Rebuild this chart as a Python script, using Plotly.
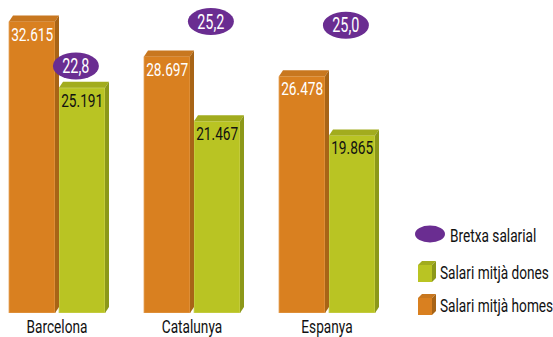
import plotly.graph_objects as go

# Salaris mitjans (euros) i bretxa salarial (%)
regions = ["Barcelona", "Catalunya", "Espanya"]
salari_homes = [32615, 28697, 26478]
salari_dones = [25191, 21467, 19865]
bretxa = [22.8, 25.2, 25.0]
legend_labels = ["Bretxa salarial", "Salari mitjà dones", "Salari mitjà homes"]

FONT = "Roboto, Liberation Sans, sans-serif"
FS = 19               # base font size
TEXT_SQUEEZE = 0.72   # horizontal condensing applied to every text

ORANGE = "#D98020"
ORANGE_TOP = "#C8771F"
ORANGE_SIDE = "#A86416"
GREEN = "#B9C423"
GREEN_TOP = "#A2AC1E"
GREEN_SIDE = "#8C9819"
PURPLE = "#6A2D91"

W, H = 553, 337
M_B = 24
PX_PER_X = 135.0          # pixels per category step
X0_PX = 57.0              # pixel position of first category
Y_MAX = 35020.0           # top of primary axis
PLOT_H = H - M_B
px_per_y = PLOT_H / Y_MAX

bar_w = 46 / PX_PER_X
bar_off = 25 / PX_PER_X
depth_x = 4 / PX_PER_X
depth_y = 6 / px_per_y

xs = list(range(len(regions)))
x_h = [i - bar_off for i in xs]
x_d = [i + bar_off for i in xs]


def fmt_thousands(v):
    return f"{v:,}".replace(",", ".")


def fmt_pct(v):
    return f"{v:.1f}".replace(".", ",")


fig = go.Figure()

fig.add_trace(go.Bar(
    x=x_h, y=salari_homes, width=bar_w,
    marker=dict(color=ORANGE, line=dict(color="#E6A35C", width=0.8)),
    showlegend=False, hoverinfo="skip",
))
fig.add_trace(go.Bar(
    x=x_d, y=salari_dones, width=bar_w,
    marker=dict(color=GREEN, line=dict(color="#D0D766", width=0.8)),
    showlegend=False, hoverinfo="skip",
))


def add_faces(xc, val, top_col, side_col):
    x0 = xc - bar_w / 2
    x1 = xc + bar_w / 2
    # top face
    fig.add_trace(go.Scatter(
        x=[x0, x1, x1 + depth_x, x0 + depth_x, x0],
        y=[val, val, val + depth_y, val + depth_y, val],
        mode="lines", fill="toself", fillcolor=top_col,
        line=dict(width=0, color=top_col), showlegend=False, hoverinfo="skip",
    ))
    # right side face
    fig.add_trace(go.Scatter(
        x=[x1, x1 + depth_x, x1 + depth_x, x1, x1],
        y=[0, depth_y, val + depth_y, val, 0],
        mode="lines", fill="toself", fillcolor=side_col,
        line=dict(width=0, color=side_col), showlegend=False, hoverinfo="skip",
    ))


for xc, v in zip(x_h, salari_homes):
    add_faces(xc, v, ORANGE_TOP, ORANGE_SIDE)
for xc, v in zip(x_d, salari_dones):
    add_faces(xc, v, GREEN_TOP, GREEN_SIDE)

shapes = []
annotations = []

# value labels just inside the top of each bar
for xc, v in zip(x_h, salari_homes):
    annotations.append(dict(
        x=xc, y=v, xref="x", yref="y", text=fmt_thousands(v),
        xanchor="center", yanchor="top", showarrow=False, borderpad=0,
        font=dict(family=FONT, size=FS, color="white"),
    ))
for xc, v in zip(x_d, salari_dones):
    annotations.append(dict(
        x=xc, y=v, xref="x", yref="y", text=fmt_thousands(v),
        xanchor="center", yanchor="top", showarrow=False, borderpad=0,
        font=dict(family=FONT, size=FS, color="#111111"),
    ))

# Bretxa salarial: ellipses on the secondary axis
gap_dx = 0.14
for i, g in zip(xs, bretxa):
    shapes.append(dict(
        type="circle", xref="x", yref="y2",
        xsizemode="pixel", ysizemode="pixel",
        xanchor=i + gap_dx, yanchor=g,
        x0=-23, x1=23, y0=-13.5, y1=13.5,
        fillcolor=PURPLE, line=dict(width=0), layer="above",
    ))
    annotations.append(dict(
        x=i + gap_dx, y=g, xref="x", yref="y2", text=fmt_pct(g),
        showarrow=False, font=dict(family=FONT, size=20, color="white"),
    ))


# Legend drawn with paper-anchored pixel shapes
def paper_x(px):
    return px / W


def paper_y(py):
    return (PLOT_H - py) / PLOT_H


shapes.append(dict(
    type="circle", xref="paper", yref="paper",
    xsizemode="pixel", ysizemode="pixel",
    xanchor=paper_x(430), yanchor=paper_y(234),
    x0=-15, x1=15, y0=-8.5, y1=8.5,
    fillcolor=PURPLE, line=dict(width=0),
))


def legend_cube(cx, cy, front, top, side):
    # cx, cy = pixel position of the front face's bottom-left corner
    w, h, d, dh = 14, 17, 4, 4
    common = dict(xref="paper", yref="paper", xsizemode="pixel", ysizemode="pixel",
                  xanchor=paper_x(cx), yanchor=paper_y(cy), line=dict(width=0))
    shapes.append(dict(type="path", path=f"M0,0 L{w},0 L{w},{h} L0,{h} Z",
                       fillcolor=front, **common))
    shapes.append(dict(type="path", path=f"M0,{h} L{w},{h} L{w+d},{h+dh} L{d},{h+dh} Z",
                       fillcolor=top, **common))
    shapes.append(dict(type="path", path=f"M{w},0 L{w+d},{dh} L{w+d},{h+dh} L{w},{h} Z",
                       fillcolor=side, **common))


legend_cube(418, 282, GREEN, GREEN_TOP, GREEN_SIDE)
legend_cube(418, 315, ORANGE, ORANGE_TOP, ORANGE_SIDE)

for label, px, py in zip(legend_labels, [449, 439, 439], [235, 272, 305]):
    annotations.append(dict(
        x=paper_x(px), y=paper_y(py), xref="paper", yref="paper",
        xanchor="left", yanchor="middle", align="left", text=label,
        showarrow=False, borderpad=0,
        font=dict(family=FONT, size=FS, color="#111111"),
    ))

# secondary axis scale for the gap ellipses
gap_px_per_unit = 18.54
gap_ref_val, gap_ref_px = 22.8, 66.0
y2_top = gap_ref_val + gap_ref_px / gap_px_per_unit
y2_bottom = gap_ref_val - (PLOT_H - gap_ref_px) / gap_px_per_unit

fig.update_layout(
    width=W, height=H,
    margin=dict(l=0, r=0, t=0, b=M_B),
    paper_bgcolor="white", plot_bgcolor="white",
    barmode="overlay",
    shapes=shapes, annotations=annotations,
    xaxis=dict(
        range=[-X0_PX / PX_PER_X, (W - X0_PX) / PX_PER_X],
        tickvals=xs, ticktext=regions, showgrid=False, zeroline=False,
        showline=False, ticks="", ticklen=0,
        tickfont=dict(family=FONT, size=FS, color="#111111"),
    ),
    yaxis=dict(range=[0, Y_MAX], visible=False, showgrid=False, zeroline=False),
    yaxis2=dict(range=[y2_bottom, y2_top], overlaying="y", visible=False,
                showgrid=False, zeroline=False),
    font=dict(family=FONT),
)

# Condense every text horizontally around its own anchor point, so the
# labels get the narrow look of a condensed typeface.
condense_js = """
var gd = document.getElementById('{plot_id}');
var S = %s;
function condense() {
  gd.querySelectorAll('text').forEach(function (t) {
    var tr = t.getAttribute('transform') || '';
    if (tr.indexOf('scale(' + S + ',1)') >= 0) return;
    var x = parseFloat(t.getAttribute('x')) || 0;
    t.setAttribute('transform', tr + ' translate(' + x + ',0) scale(' + S + ',1) translate(' + (-x) + ',0)');
  });
}
condense();
gd.on('plotly_afterplot', condense);
""" % TEXT_SQUEEZE

fig.write_html("out.html", post_script=condense_js)
